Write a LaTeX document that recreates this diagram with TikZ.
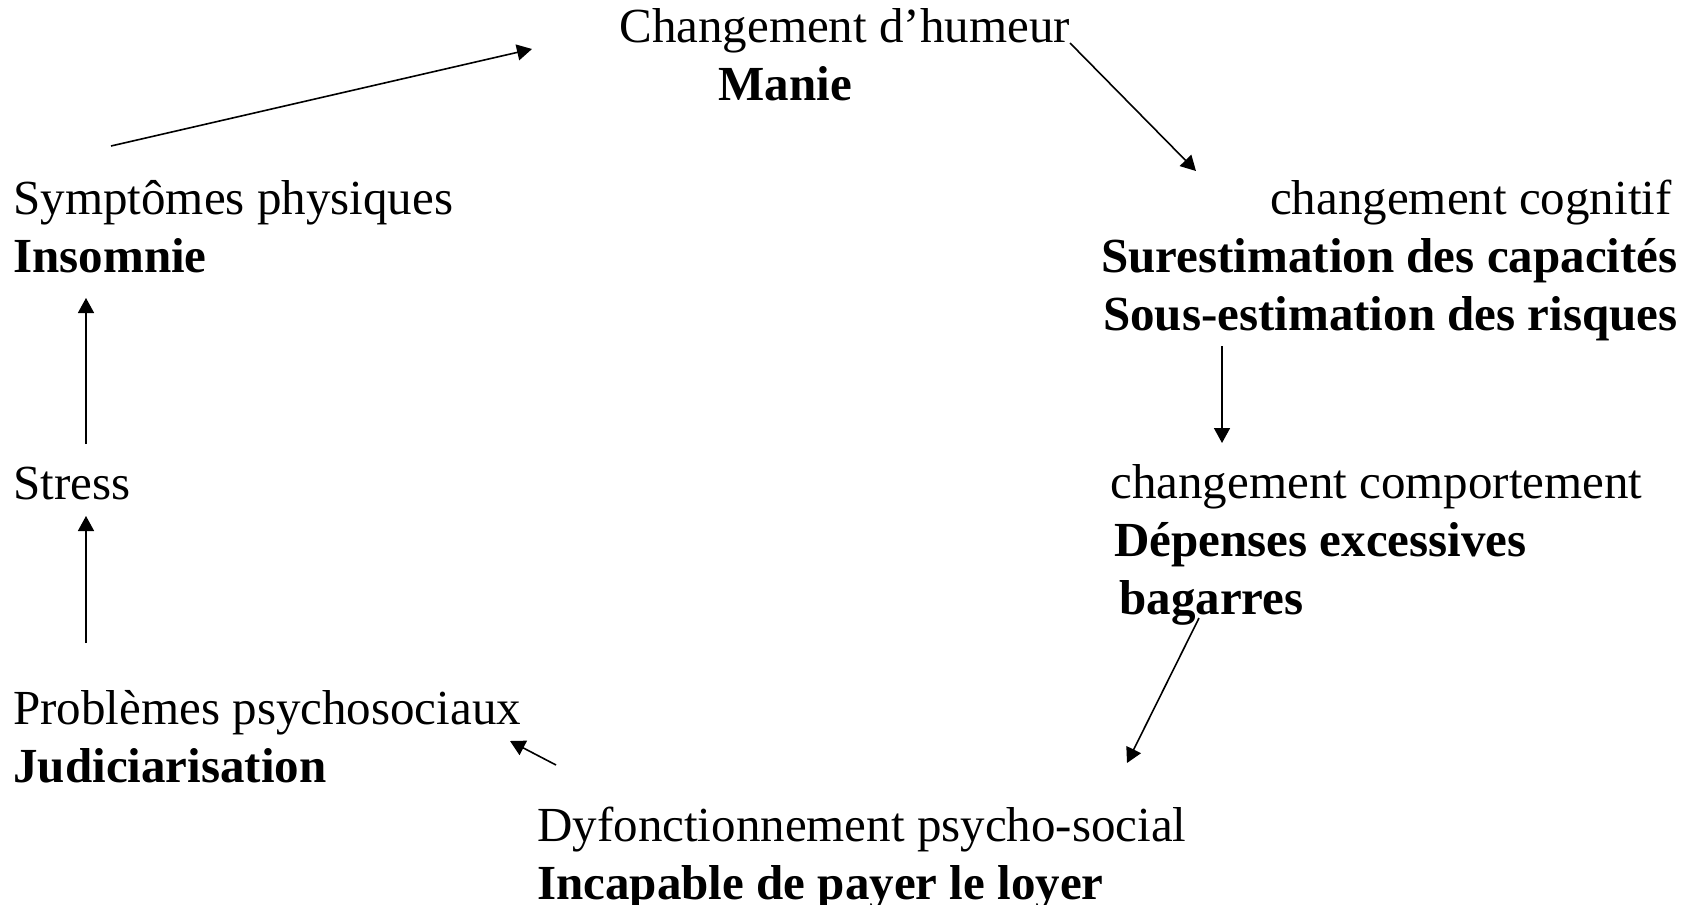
\documentclass[tikz,border=0pt]{standalone}
\usepackage{fontspec}
\setmainfont{Liberation Serif}
\usepackage{tikz}
\usetikzlibrary{arrows.meta, positioning, calc}
\tikzset{
    block/.style={
        inner sep=0pt,
        align=left,
        anchor=base west,
        font=\fontsize{24.5}{28.85}\selectfont
    },
    line/.style={
        draw,
        line width=0.8pt,
        -{Triangle[length=7.5pt,width=8pt]}
    }
}

\begin{document}
\begin{tikzpicture}[x=0.5pt, y=-0.5pt]

    \useasboundingbox (0,0) rectangle (1694,905);

    % Mood
    \node (hum) [block] at (619,100) {
        Changement d’humeur\\
        \hspace*{49.5pt}\textbf{Manie}
    };

    % Cognitive
    \node (cog) [block, align=right, anchor=base east] at (1678,330) {
        changement cognitif\hspace*{3pt}\\
        \textbf{Surestimation des capacités}\\
        \textbf{Sous-estimation des risques}
    };

    % Behaviour
    \node (comp) [block] at (1110,614) {
        changement comportement\\
        \hspace*{2pt}\textbf{Dépenses excessives}\\
        \hspace*{4.5pt}\textbf{bagarres}
    };

    % Dysfunction
    \node (dys) [block] at (537,899) {
        Dyfonctionnement psycho-social\\
        \textbf{Incapable de payer le loyer}
    };

    % Left column
    \node (prob) [block] at (13,782) {
        Problèmes psychosociaux\\
        \textbf{Judiciarisation}
    };

    \node (stress) [block] at (13,499) {Stress};

    \node (sym) [block] at (13,272) {
        Symptômes physiques\\
        \textbf{Insomnie}
    };

    % Connections
    \draw [line] ([shift={(98,-126)}]sym.base west) -- ([shift={(-87,-51)}]hum.base west);
    \draw [line] ([shift={(451,-57)}]hum.base west) -- ([shift={(-482,-159)}]cog.base east);
    \draw [line] ([shift={(-456,16)}]cog.base east) -- ([shift={(112,-171)}]comp.base west);
    \draw [line] ([shift={(89,4)}]comp.base west) -- ([shift={(590,-136)}]dys.base west);
    \draw [line] ([shift={(19,-134)}]dys.base west) -- ([shift={(497,-41)}]prob.base west);
    \draw [line] ([shift={(73,-139)}]prob.base west) -- ([shift={(73,17)}]stress.base west);
    \draw [line] ([shift={(73,-55)}]stress.base west) -- ([shift={(73,26)}]sym.base west);

\end{tikzpicture}
\end{document}
